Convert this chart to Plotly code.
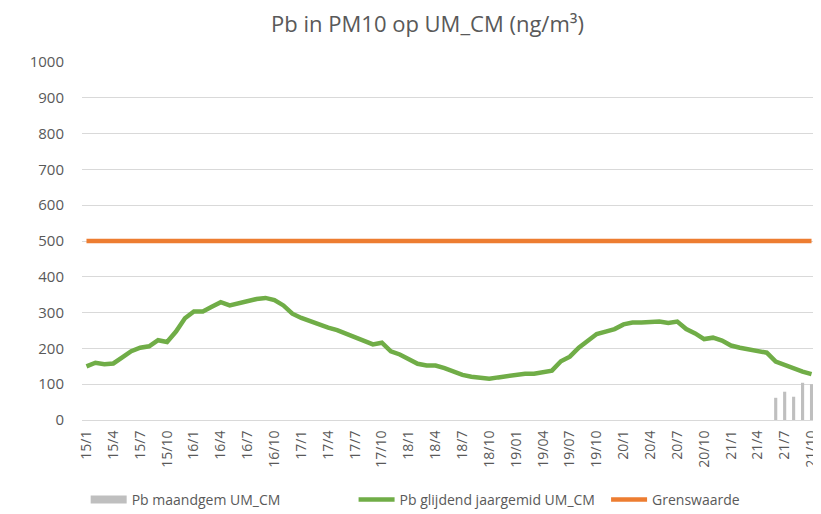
import plotly.graph_objects as go

# Month categories 2015/1 .. 2021/10
months = []
for yy in range(15, 22):
    for mm in range(1, 13):
        if yy == 21 and mm > 10:
            break
        if yy == 19:
            months.append(f"{yy}/{mm:02d}")
        else:
            months.append(f"{yy}/{mm}")

tick_labels = months[::3]

# Monthly mean (only last months available)
maandgem = [None] * 77 + [62, 79, 65, 104, 100]

# Rolling annual mean
glijdend = [150, 160, 156, 158, 175, 192, 202, 206, 223, 218,
            247, 284, 303, 303, 316, 329, 320, 326, 335, 338,
            341, 335, 320, 297, 285, 275, 267, 258, 251, 241,
            232, 221, 211, 216, 192, 183, 169, 157, 152, 152,
            145, 136, 126, 121, 118, 115, 119, 123, 124, 129,
            129, 132, 138, 164, 177, 202, 222, 240, 247, 254,
            267, 272, 272, 275, 275, 271, 275, 254, 242, 226,
            230, 222, 208, 202, 197, 192, 188, 163, 153, 142,
            135, 128]

grenswaarde = [500] * len(months)

fig = go.Figure()
fig.add_trace(go.Bar(x=months, y=maandgem, name="Pb maandgem UM_CM",
                     marker=dict(color="#BFBFBF", line=dict(width=0)),
                     showlegend=False))
# legend-only entry giving the bar series a wide rectangular swatch
fig.add_trace(go.Scatter(x=[months[0]], y=[None], name="Pb maandgem UM_CM",
                         mode="lines", line=dict(color="#BFBFBF", width=8),
                         legend="legend", hoverinfo="skip"))
fig.add_trace(go.Scatter(x=months, y=glijdend, name="Pb glijdend jaargemid UM_CM",
                         mode="lines", line=dict(color="#70AD47", width=4.5),
                         legend="legend2"))
fig.add_trace(go.Scatter(x=months, y=grenswaarde, name="Grenswaarde",
                         mode="lines", line=dict(color="#ED7D31", width=4.5),
                         legend="legend3"))

leg_common = dict(orientation="h", y=-0.2235, yanchor="middle", xanchor="left",
                  font=dict(size=14, color="#595959"), itemwidth=36,
                  bgcolor="rgba(0,0,0,0)")

fig.update_layout(
    width=813, height=506,
    margin=dict(l=74, r=5, t=54, b=94, autoexpand=False),
    paper_bgcolor="white", plot_bgcolor="white",
    font=dict(family="Open Sans, sans-serif", color="#595959", size=14),
    title=dict(text="Pb in PM10 op UM_CM (ng/m³)", x=0.516, xanchor="center",
               y=0.968, yanchor="middle",
               font=dict(size=22, color="#595959", family="Open Sans, sans-serif")),
    bargap=0.65,
    showlegend=True,
    legend=dict(x=0.005, **leg_common),
    legend2=dict(x=0.370, **leg_common),
    legend3=dict(x=0.714, **leg_common),
    xaxis=dict(type="category", categoryorder="array", categoryarray=months,
               range=[-0.5, len(months) - 0.5], automargin=False,
               tickmode="array", tickvals=tick_labels, ticktext=tick_labels,
               tickangle=-90, showgrid=False, showline=True, linecolor="#D9D9D9",
               linewidth=1, ticks="", ticklabelstandoff=4,
               tickfont=dict(size=14, color="#595959")),
    yaxis=dict(range=[0, 1000], dtick=100, showgrid=True, gridcolor="#D9D9D9",
               gridwidth=1, zeroline=False, showline=False, ticks="",
               automargin=False, ticklabelstandoff=17,
               tickfont=dict(size=15, color="#595959")),
)

fig.write_html("out.html")
